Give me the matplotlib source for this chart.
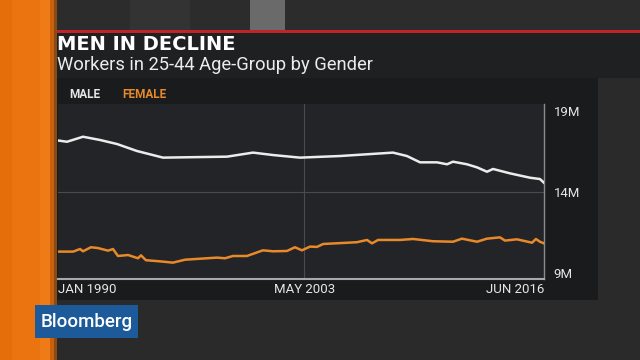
import numpy as np
from matplotlib import pyplot as plt
from matplotlib.patches import Rectangle

# data (decimal years, millions of workers)
male_year = [1990.05, 1990.49, 1991.36, 1992.28, 1993.21, 1994.29, 1995.71, 1999.19,
             2000.60, 2001.69, 2003.16, 2005.33, 2008.21, 2008.97, 2009.68, 2010.60,
             2011.15, 2011.47, 2012.23, 2012.78, 2013.32, 2013.65, 2014.57, 2015.66,
             2016.20, 2016.42]
male_val = [17.17, 17.10, 17.41, 17.21, 16.96, 16.53, 16.12, 16.18,
            16.43, 16.28, 16.12, 16.22, 16.43, 16.22, 15.83, 15.83,
            15.71, 15.87, 15.71, 15.52, 15.25, 15.42, 15.15, 14.88,
            14.80, 14.57]

female_year = [1990.05, 1990.82, 1991.20, 1991.36, 1991.79, 1992.17, 1992.72, 1992.99,
               1993.26, 1993.81, 1994.35, 1994.51, 1994.78, 1995.54, 1996.25, 1996.90,
               1998.64, 1999.08, 1999.51, 2000.27, 2001.14, 2001.69, 2002.45, 2002.88,
               2003.26, 2003.70, 2004.08, 2004.41, 2006.25, 2006.80, 2007.07, 2007.40,
               2008.59, 2009.30, 2010.39, 2011.47, 2011.96, 2012.78, 2013.32, 2014.03,
               2014.30, 2014.95, 2015.77, 2015.98, 2016.20, 2016.42]
female_val = [10.32, 10.32, 10.48, 10.34, 10.59, 10.54, 10.38, 10.48,
              10.05, 10.11, 9.91, 10.09, 9.79, 9.72, 9.64, 9.82,
              9.95, 9.91, 10.05, 10.05, 10.40, 10.34, 10.36, 10.59,
              10.40, 10.63, 10.61, 10.79, 10.90, 11.04, 10.83, 11.04,
              11.04, 11.10, 10.96, 10.93, 11.12, 10.93, 11.12, 11.20,
              11.00, 11.08, 10.87, 11.10, 10.93, 10.83]

x_ticks = [1990.0, 2003.4, 2016.42]
x_labels = ["JAN 1990", "MAY 2003", "JUN 2016"]
y_ticks = [9, 14, 19]
y_labels = ["9M", "14M", "19M"]

W, H = 640, 360
fig = plt.figure(figsize=(6.4, 3.6), dpi=100)
fig.patch.set_facecolor("#2a2a2a")

# background panels drawn in pixel coords
bg = fig.add_axes([0, 0, 1, 1])
bg.set_xlim(0, W)
bg.set_ylim(H, 0)
bg.axis("off")
bg.add_patch(Rectangle((57, 0), W - 57, 30, fc="#2c2c2c", ec="none"))
bg.add_patch(Rectangle((130, 0), 60, 30, fc="#333333", ec="none"))
bg.add_patch(Rectangle((250, 0), 35, 30, fc="#6a6a6a", ec="none"))
bg.add_patch(Rectangle((54, 30), W - 54, 2.5, fc="#c0242a", ec="none"))
bg.add_patch(Rectangle((54, 32.5), W - 54, 45.5, fc="#1f2022", ec="none"))
bg.add_patch(Rectangle((57, 78), 541, 222, fc="#1a1b1d", ec="none"))
bg.add_patch(Rectangle((0, 0), 57, H, fc="#ec7410", ec="none"))
bg.add_patch(Rectangle((0, 0), 12, H, fc="#e56e0b", ec="none"))
bg.add_patch(Rectangle((40, 0), 10, H, fc="#ee7b16", ec="none"))
bg.add_patch(Rectangle((50, 0), 4, H, fc="#c8600e", ec="none"))
bg.add_patch(Rectangle((54, 0), 3, H, fc="#8a4a14", ec="none"))
bg.add_patch(Rectangle((35, 305), 103, 33, fc="#1c5a9a", ec="none"))
bg.text(86.5, 322, "Bloomberg", color="white", fontsize=13.5, family="Roboto",
        fontweight="medium", ha="center", va="center")
bg.text(57, 44.5, "MEN IN DECLINE", color="white", fontsize=14, family="DejaVu Sans",
        fontweight="bold", ha="left", va="center")
bg.text(57, 65.5, "Workers in 25-44 Age-Group by Gender", color="#ececec", fontsize=13.2,
        family="Roboto", ha="left", va="center")
bg.text(69, 94, "MALE", color="#e6e6e6", fontsize=8.5, family="Roboto",
        fontweight="bold", ha="left", va="center")
bg.text(122, 94, "FEMALE", color="#e8892a", fontsize=8.5, family="Roboto",
        fontweight="bold", ha="left", va="center")

ax = fig.add_axes([58 / W, (H - 279) / H, 486 / W, 175 / H])
ax.set_facecolor("#232427")
ax.axhline(14, color="#4a4b4e", lw=0.8, zorder=1)
ax.axvline(x_ticks[1], color="#4a4b4e", lw=0.8, zorder=1)
ax.plot(male_year, male_val, color="#ececec", lw=1.8, zorder=3)
ax.plot(female_year, female_val, color="#e8892a", lw=1.8, zorder=3)
ax.set_xlim(1990.0, 2016.42)
ax.set_ylim(8.63, 19.43)

for s in ["top", "left"]:
    ax.spines[s].set_visible(False)
ax.spines["bottom"].set_color("#a8a8a8")
ax.spines["bottom"].set_linewidth(1.5)
ax.spines["right"].set_color("#8c8c8c")
ax.spines["right"].set_linewidth(1.0)

ax.yaxis.tick_right()
ax.set_yticks(y_ticks)
ax.set_yticklabels(y_labels, family="Roboto", fontsize=9.5, color="#e6e6e6")
ax.set_xticks(x_ticks)
ax.set_xticklabels(x_labels, family="Roboto", fontsize=9.5, color="#e6e6e6")
ax.tick_params(length=0)
ax.tick_params(axis="y", pad=7)
ax.tick_params(axis="x", pad=3)
xl = ax.get_xticklabels()
xl[0].set_ha("left")
xl[2].set_ha("right")

fig.savefig("out.png", dpi=100, facecolor=fig.get_facecolor())
